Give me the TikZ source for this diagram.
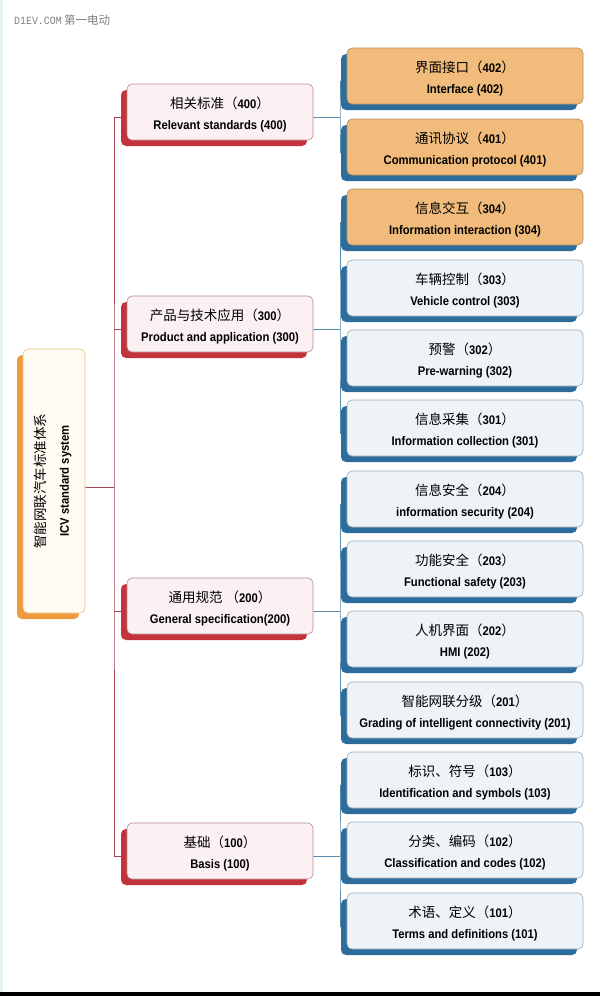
\documentclass[tikz,border=0pt]{standalone}
\usepackage{fontspec}
\setmainfont[FakeStretch=0.9]{Liberation Sans}
\newfontfamily\cjk{Noto Sans CJK SC}
\newfontfamily\wmfont[FakeStretch=0.9]{Liberation Mono}
\usetikzlibrary{shadows,backgrounds}

\definecolor{shred}{HTML}{C4323C}
\definecolor{lvred}{HTML}{FBF1F2}
\definecolor{bdred}{HTML}{B98A92}
\definecolor{shblue}{HTML}{2C6D9D}
\definecolor{lvblue}{HTML}{EEF3F7}
\definecolor{bdblue}{HTML}{9DAAB6}
\definecolor{lvorange}{HTML}{F0BB7B}
\definecolor{bdorange}{HTML}{B88A5E}
\definecolor{shroot}{HTML}{EE9B3D}
\definecolor{lvroot}{HTML}{FFFAF2}
\definecolor{bdroot}{HTML}{E9C37A}
\definecolor{linkred}{HTML}{A34452}
\definecolor{linkblue}{HTML}{5A8CAC}
\definecolor{stripe}{HTML}{E6F4F4}

\newcommand\lab[3]{\rule{0pt}{16pt}{\cjk\fontsize{13.5}{15}\selectfont #1（}{\bfseries #2}{\cjk\fontsize{13.5}{15}\selectfont ）}\\[6pt]{\bfseries #3}}

\begin{document}
\begin{tikzpicture}[x=1pt,y=-1pt,
	box/.style={draw,rounded corners=5pt,line width=0.6pt,align=center,
		font=\fontsize{12.5}{15}\selectfont,inner sep=2pt},
	topbox/.style={box,minimum width=186pt,minimum height=56pt,draw=bdred,fill=lvred,
		drop shadow={shadow xshift=-6pt,shadow yshift=-6pt,fill=shred,opacity=1}},
	subbox/.style={box,minimum width=236pt,minimum height=56pt,draw=bdblue,fill=lvblue,
		drop shadow={shadow xshift=-6pt,shadow yshift=-6pt,fill=shblue,opacity=1}},
	hotbox/.style={subbox,draw=bdorange,fill=lvorange},
	redlink/.style={draw=linkred,line width=0.8pt},
	bluelink/.style={draw=linkblue,line width=0.7pt}]
	\useasboundingbox (0,0) rectangle (600,996);
	\fill[stripe] (0,0) rectangle (3,996);
	\fill[black] (0,992) rectangle (600,996);
	\node[anchor=west,inner sep=0pt,text=gray] (wm) at (14,20) {{\wmfont\fontsize{11}{12}\selectfont D1EV.COM} {\cjk\fontsize{11.5}{12}\selectfont 第一电动}};
	% root
	\node[box,minimum width=62pt,minimum height=264pt,draw=bdroot,fill=lvroot,
		drop shadow={shadow xshift=-6pt,shadow yshift=-6pt,fill=shroot,opacity=1}] (root) at (54,481)
		{\rotatebox{90}{\begin{tabular}{@{}c@{}}{\cjk\fontsize{13.5}{15}\selectfont 智能网联汽车标准体系}\\[8pt]\bfseries ICV standard system\end{tabular}}};
	% 400 - 100
	\node[topbox] (l400) at (220,112) {\lab{相关标准}{400}{Relevant standards (400)}};
	\node[topbox] (l300) at (220,324) {\lab{产品与技术应用}{300}{Product and application (300)}};
	\node[topbox] (l200) at (220,606) {\lab{通用规范\ }{200}{General specification(200)}};
	\node[topbox] (l100) at (220,851) {\lab{基础}{100}{Basis (100)}};
	% leaves
	\node[hotbox] (c402) at (465,76) {\lab{界面接口}{402}{Interface (402)}};
	\node[hotbox] (c401) at (465,147) {\lab{通讯协议}{401}{Communication protocol (401)}};
	\node[hotbox] (c304) at (465,217) {\lab{信息交互}{304}{Information interaction (304)}};
	\node[subbox] (c303) at (465,288) {\lab{车辆控制}{303}{Vehicle control (303)}};
	\node[subbox] (c302) at (465,358) {\lab{预警}{302}{Pre-warning (302)}};
	\node[subbox] (c301) at (465,428) {\lab{信息采集}{301}{Information collection (301)}};
	\node[subbox] (c204) at (465,499) {\lab{信息安全}{204}{information security (204)}};
	\node[subbox] (c203) at (465,569) {\lab{功能安全}{203}{Functional safety (203)}};
	\node[subbox] (c202) at (465,639) {\lab{人机界面}{202}{HMI (202)}};
	\node[subbox] (c201) at (465,710) {\lab{智能网联分级}{201}{Grading of intelligent connectivity (201)}};
	\node[subbox] (c103) at (465,780) {\lab{标识、符号}{103}{Identification and symbols (103)}};
	\node[subbox] (c102) at (465,850) {\lab{分类、编码}{102}{Classification and codes (102)}};
	\node[subbox] (c101) at (465,921) {\lab{术语、定义}{101}{Terms and definitions (101)}};
	\begin{scope}[on background layer]
		\coordinate (trunk) at (114,487);
		\draw[redlink] ([yshift=-6pt]root.east) -- (trunk);
		\draw[redlink] ([yshift=-5pt]l400.west) -| (trunk) |- ([yshift=-5pt]l100.west);
		\draw[redlink] ([yshift=-5pt]l300.west) -- ([yshift=-5pt]l300.west -| trunk);
		\draw[redlink] ([yshift=-5pt]l200.west) -- ([yshift=-5pt]l200.west -| trunk);
		\coordinate (j400) at (340,117);
		\coordinate (j300) at (340,329);
		\coordinate (j200) at (340,611);
		\coordinate (j100) at (340,856);
		\draw[bluelink] ([yshift=-5pt]l400.east) -- (j400);%400
		\draw[bluelink] ([yshift=-5pt]c402.west) -| (j400) |- ([yshift=-5pt]c401.west);
		\draw[bluelink] ([yshift=-5pt]l300.east) -- (j300);%300
		\draw[bluelink] ([yshift=-5pt]c304.west) -| (j300) |- ([yshift=-5pt]c301.west);
		\draw[bluelink] ([yshift=-5pt]c303.west) -- ([yshift=-5pt]c303.west -| j300);
		\draw[bluelink] ([yshift=-5pt]c302.west) -- ([yshift=-5pt]c302.west -| j300);
		\draw[bluelink] ([yshift=-5pt]l200.east) -- (j200);%200
		\draw[bluelink] ([yshift=-5pt]c204.west) -| (j200) |- ([yshift=-5pt]c201.west);
		\draw[bluelink] ([yshift=-5pt]c203.west) -- ([yshift=-5pt]c203.west -| j200);
		\draw[bluelink] ([yshift=-5pt]c202.west) -- ([yshift=-5pt]c202.west -| j200);
		\draw[bluelink] ([yshift=-5pt]l100.east) -- (j100);%100
		\draw[bluelink] ([yshift=-5pt]c103.west) -| (j100) |- ([yshift=-5pt]c101.west);
		\draw[bluelink] ([yshift=-5pt]c102.west) -- ([yshift=-5pt]c102.west -| j100);
	\end{scope}
\end{tikzpicture}
\end{document}
